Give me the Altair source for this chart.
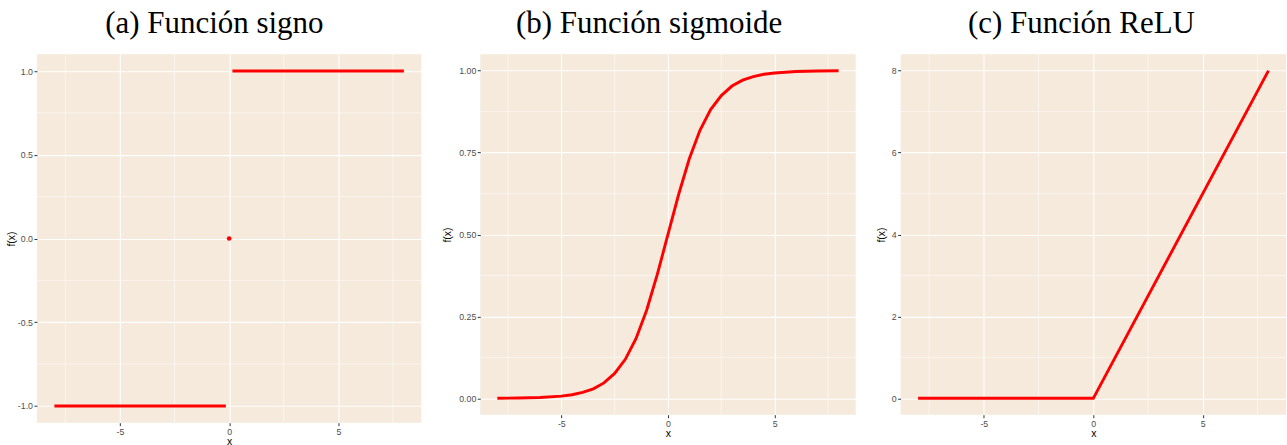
import altair as alt
import pandas as pd

BG = "#F5EADC"
RED = "#FF0000"

# shared x grid
x_major = [-5, 0, 5]
x_minor = [-7.5, -2.5, 2.5, 7.5]

# (a) sign function: two flat segments plus the isolated point at 0
sign_x = [-8, -0.15, 0.15, 8]
sign_y = [-1, -1, 1, 1]
sign_seg = ["neg", "neg", "pos", "pos"]
sign_pt_x = [0]
sign_pt_y = [0]
sign_major = [-1.0, -0.5, 0.0, 0.5, 1.0]
sign_minor = [-0.75, -0.25, 0.25, 0.75]

# (b) sigmoid
sig_x = [-8, -7, -6, -5, -4.5, -4, -3.5, -3, -2.5, -2, -1.5, -1, -0.5,
         0, 0.5, 1, 1.5, 2, 2.5, 3, 3.5, 4, 4.5, 5, 6, 7, 8]
sig_y = [0.0003, 0.0009, 0.0025, 0.0067, 0.011, 0.018, 0.029, 0.047, 0.076,
         0.119, 0.182, 0.269, 0.378, 0.5, 0.622, 0.731, 0.818, 0.881, 0.924,
         0.953, 0.971, 0.982, 0.989, 0.993, 0.9975, 0.9991, 0.9997]
sig_major = [0.0, 0.25, 0.5, 0.75, 1.0]
sig_minor = [0.125, 0.375, 0.625, 0.875]

# (c) ReLU
relu_x = [-8, 0, 8]
relu_y = [0, 0, 8]
relu_major = [0, 2, 4, 6, 8]
relu_minor = [1, 3, 5, 7]

XDOM = [-8.8, 8.8]


def fmt_expr(spec):
    return "replace(format(datum.value, '%s'), '\u2212', '-')" % spec


def panel(title, line_df, ydom, ymaj, ymin, yfmt, w, h, extent, tpad, point_df=None):
    xs = alt.Scale(domain=XDOM, nice=False, zero=False)
    ys = alt.Scale(domain=ydom, nice=False, zero=False)
    xax = alt.Axis(values=x_major, labelExpr=fmt_expr("d"), titlePadding=1)
    yax = alt.Axis(values=ymaj, labelExpr=fmt_expr(yfmt),
                   minExtent=extent, maxExtent=extent, titlePadding=tpad)

    def X(field):
        return alt.X(field, scale=xs, title="x", axis=xax)

    def Y(field):
        return alt.Y(field, scale=ys, title="f(x)", axis=yax)

    line = alt.Chart(line_df).mark_line(
        color=RED, strokeWidth=2.9, strokeCap="butt"
    ).encode(x=X("x:Q"), y=Y("y:Q"), detail="seg:N")

    # thin minor grid lines between the major ones
    xminor = alt.Chart(pd.DataFrame({"x": x_minor})).mark_rule(
        color="white", strokeWidth=0.55
    ).encode(x=X("x:Q"))
    yminor = alt.Chart(pd.DataFrame({"y": ymin})).mark_rule(
        color="white", strokeWidth=0.55
    ).encode(y=Y("y:Q"))

    layers = [xminor, yminor, line]
    if point_df is not None:
        layers.append(
            alt.Chart(point_df).mark_circle(color=RED, opacity=1, size=22).encode(
                x=X("x:Q"), y=Y("y:Q")
            )
        )
    return alt.layer(*layers).properties(
        width=w, height=h,
        title=alt.TitleParams(
            text=title, font="Liberation Serif", fontSize=31,
            fontWeight="normal", color="black", anchor="middle",
            frame="bounds", offset=14,
        ),
    )


sign_df = pd.DataFrame({"x": sign_x, "y": sign_y, "seg": sign_seg})
sign_pt = pd.DataFrame({"x": sign_pt_x, "y": sign_pt_y})
sig_df = pd.DataFrame({"x": sig_x, "y": sig_y, "seg": ["s"] * len(sig_x)})
relu_df = pd.DataFrame({"x": relu_x, "y": relu_y, "seg": ["r"] * len(relu_x)})

pa = panel("(a) Función signo", sign_df, [-1.1, 1.1], sign_major, sign_minor,
           ".1f", 385, 369, 17, 3, point_df=sign_pt)
pb = panel("(b) Función sigmoide", sig_df, [-0.05, 1.05], sig_major, sig_minor,
           ".2f", 376, 361, 25, 3)
pc = panel("(c) Función ReLU", relu_df, [-0.4, 8.4], relu_major, relu_minor,
           "d", 386, 361, 11, 3)

chart = alt.hconcat(pa, pb, pc, spacing=20).properties(
    padding={"left": 7, "top": 7, "right": 0, "bottom": 0}
).configure_view(
    fill=BG, stroke=None
).configure_axis(
    grid=True, gridColor="white", gridWidth=1.1, domain=False,
    labelFont="Liberation Sans", labelFontSize=8.8, labelColor="#4D4D4D",
    labelPadding=1.5, tickColor="#333333", tickSize=3, tickWidth=1,
    titleFont="Liberation Sans", titleFontSize=10.5, titleFontWeight="normal",
    titleColor="black",
)

chart.save("out.html", embed_options={"renderer": "svg", "actions": False})
